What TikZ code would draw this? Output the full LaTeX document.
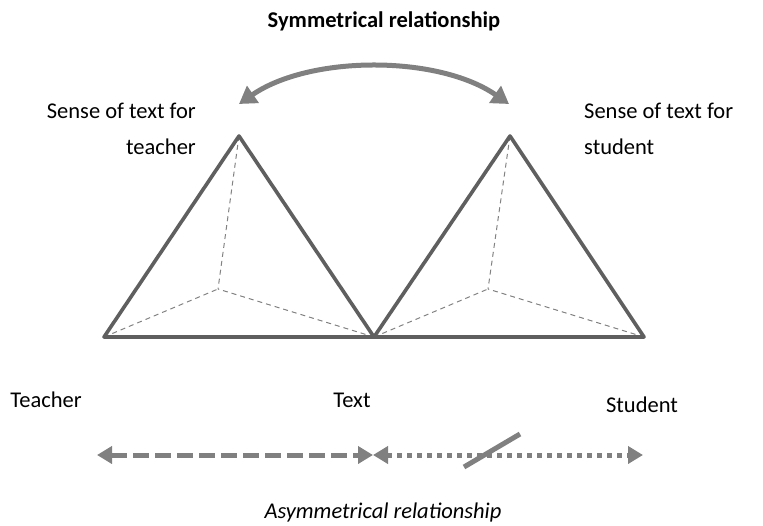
\documentclass[tikz,border=0pt]{standalone}
\usepackage{fontspec}
\setmainfont{Carlito}
\usepackage{tikz}
\usetikzlibrary{arrows.meta, calc}
\definecolor{edgegray}{RGB}{95,95,95}
\definecolor{arrowgray}{RGB}{128,128,128}
\definecolor{thingray}{RGB}{130,130,130}

\begin{document}
\begin{tikzpicture}[
        x=1pt, y=-1pt,
        tri/.style={draw=edgegray, line width=3.6pt, line join=round},
        hidden/.style={draw=thingray, line width=1pt, dash pattern=on 5pt off 4pt},
        arr/.style={draw=arrowgray, line width=5pt, {Triangle[length=15pt,width=17pt]}-{Triangle[length=15pt,width=17pt]}},
        lbl/.style={font=\fontsize{22.5}{36}\selectfont, inner sep=0pt}
    ]
    \useasboundingbox (0,0) rectangle (763,525);

    % Triangle for teacher
    \coordinate (tl) at (104,337);
    \coordinate (tm) at (374,337);
    \coordinate (ta) at (239,136);
    \coordinate (ti) at (218,289);
    \draw[hidden] (ta) -- (ti); \draw[hidden] (tl) -- (ti); \draw[hidden] (tm) -- (ti);
    \draw[tri] (tl) -- (ta) -- (tm) -- cycle;

    % Triangle for student
    \coordinate (sr) at (644,337);
    \coordinate (sa) at (510,136);
    \coordinate (si) at (488,289);
    \draw[hidden] (sa) -- (si); \draw[hidden] (tm) -- (si); \draw[hidden] (sr) -- (si);
    \draw[tri] (tm) -- (sa) -- (sr) -- cycle;

    % Symmetrical relationship
    \node[lbl, font=\fontsize{22.5}{36}\selectfont\bfseries, anchor=base] (sym) at (384,27) {Symmetrical relationship};
    \coordinate (symL) at (239,104);
    \coordinate (symR) at (509,104);
    \draw[arr, {Triangle[length=17pt,width=20pt]}-{Triangle[length=17pt,width=20pt]}] (symL) .. controls (310,55) and (438,55) .. (symR);

    % Labels at the apexes
    \node[lbl, align=right, anchor=north east] (sensT) at (196,103) {Sense of text for\\teacher};
    \node[lbl, align=left, anchor=north west] (sensS) at (584,103) {Sense of text for\\student};

    % Labels on the base line
    \node[lbl, anchor=base] (teacher) at (46,407) {Teacher};
    \node[lbl, anchor=base] (text) at (352,407) {Text};
    \node[lbl, anchor=base] (student) at (642,412) {Student};

    % Asymmetrical relationship
    \coordinate (aL) at (97,455);
    \coordinate (aM) at (373,455);
    \coordinate (aR) at (643,455);
    \draw[arr, dash pattern=on 16pt off 6pt] (aL) -- (aM);
    \draw[arr, dash pattern=on 5pt off 5pt] (aM) -- (aR);
    \coordinate (slA) at (464,467);
    \coordinate (slB) at (520,434);
    \draw[draw=arrowgray, line width=5pt] (slA) -- (slB);
    \node[lbl, font=\fontsize{22.5}{36}\selectfont\itshape, anchor=base] (asym) at (383,518) {Asymmetrical relationship};

\end{tikzpicture}
\end{document}
